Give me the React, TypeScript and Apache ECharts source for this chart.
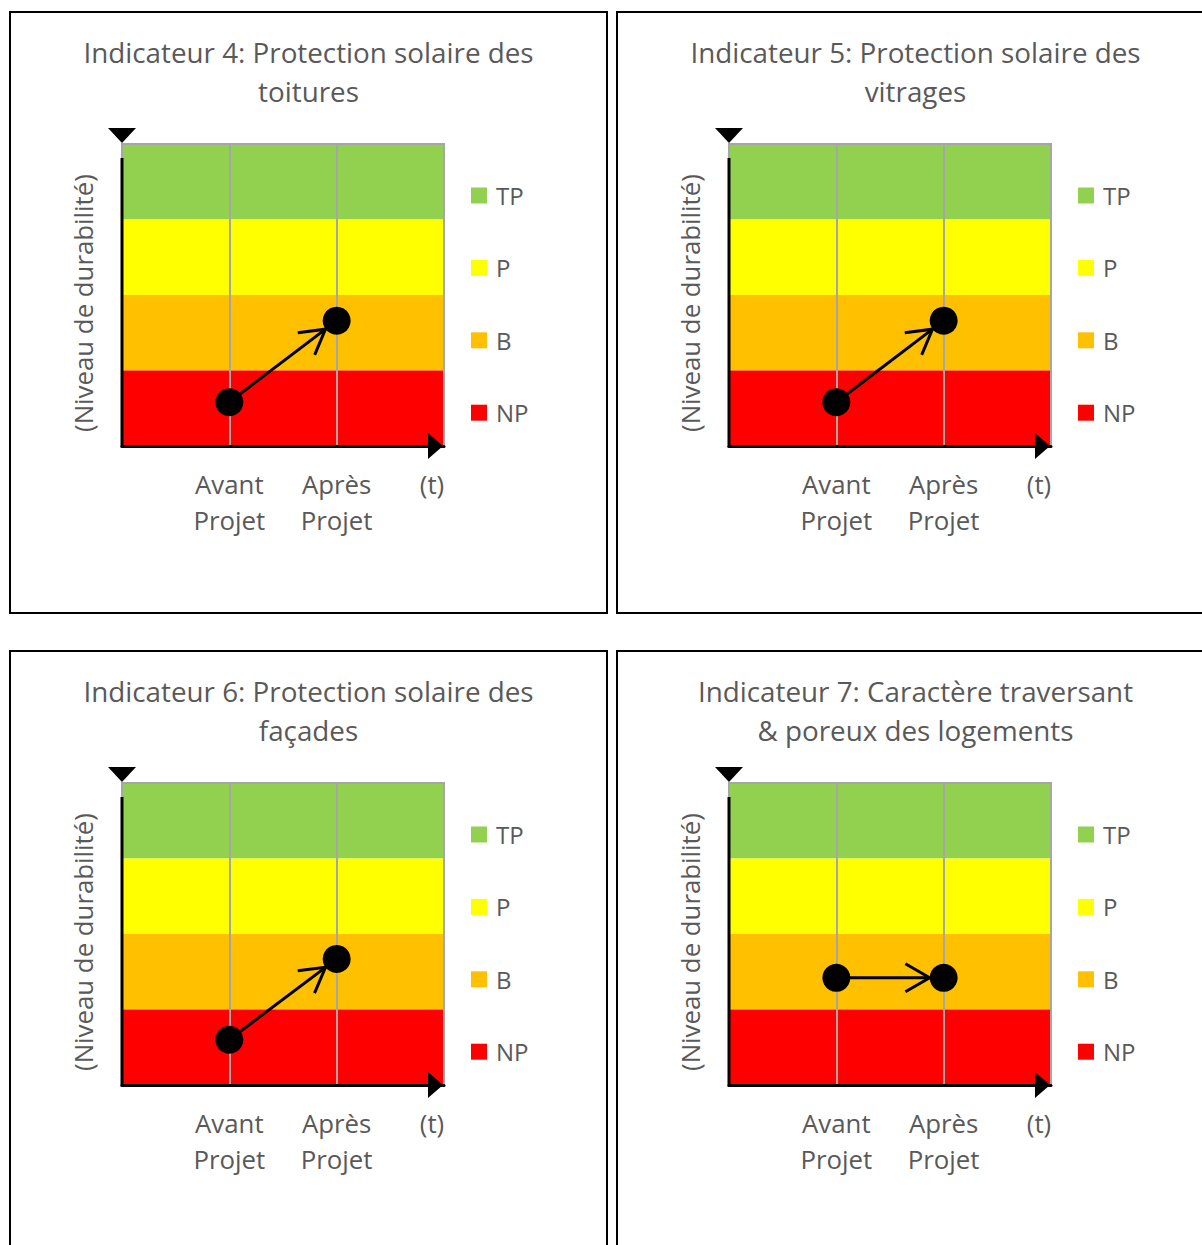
import React, { useEffect, useRef } from 'react';
import * as echarts from 'echarts';

const titles = [
  'Indicateur 4: Protection solaire des\ntoitures',
  'Indicateur 5: Protection solaire des\nvitrages',
  'Indicateur 6: Protection solaire des\nfaçades',
  'Indicateur 7: Caractère traversant\n& poreux des logements',
];
const bandNames = ['TP', 'P', 'B', 'NP'];
const bandColors = ['#92D050', '#FFFF00', '#FFC000', '#FF0000'];
const bandLower = [3, 2, 1, 0];
const bandUpper = [4, 3, 2, 1];
const xTickLabels = ['', 'Avant\nProjet', 'Après\nProjet', '(t)'];
const xPositions = [1, 2];
const avantValues = [0.58, 0.58, 0.6, 1.42];
const apresValues = [1.66, 1.66, 1.67, 1.42];
const yAxisName = '(Niveau de durabilité)';

const FONT = 'Open Sans';
const TEXT = '#595959';
const GRID_GRAY = '#A6A6A6';
const PANEL_DX = 607;
const PANEL_DY = 639;

export default function App() {
  const ref = useRef<HTMLDivElement>(null);

  useEffect(() => {
    const chart = echarts.init(ref.current!, null, { renderer: 'svg' });
    const grid: any[] = [];
    const xAxis: any[] = [];
    const yAxis: any[] = [];
    const series: any[] = [];
    const legend: any[] = [];
    const title: any[] = [];

    for (let i = 0; i < 4; i++) {
      const col = i % 2;
      const row = Math.floor(i / 2);
      const ox = col * PANEL_DX;
      const oy = row * PANEL_DY;

      title.push({
        text: titles[i],
        left: 308.5 + ox,
        top: 32.5 + oy,
        padding: 0,
        textAlign: 'center',
        textStyle: { fontFamily: FONT, fontSize: 27.8, fontWeight: 'normal', color: TEXT, lineHeight: 39 },
      });

      grid.push({
        left: 122 + ox, top: 144 + oy, width: 322, height: 302,
        show: true, borderColor: GRID_GRAY, borderWidth: 2, backgroundColor: 'transparent', z: 3,
      });

      xAxis.push({
        type: 'value', gridIndex: i, min: 0, max: 3, interval: 1, z: 3,
        axisLine: { show: true, onZero: false, lineStyle: { color: '#000', width: 3 } },
        axisTick: { show: false },
        splitLine: { show: true, lineStyle: { color: GRID_GRAY, width: 2 } },
        axisLabel: {
          margin: 20, fontFamily: FONT, fontSize: 25.8, color: TEXT, lineHeight: 36,
          formatter: (v: number) => (v === 3 ? '{t|' + xTickLabels[3] + '}' : xTickLabels[v] || ''),
          rich: { t: { fontFamily: FONT, fontSize: 25.8, color: TEXT, lineHeight: 36, padding: [0, 24, 0, 0] } },
        },
      });

      yAxis.push({
        type: 'value', gridIndex: i, min: 0, max: 4, interval: 1, z: 3,
        axisLine: { show: false }, axisTick: { show: false }, axisLabel: { show: false },
        splitLine: { show: false },
        name: yAxisName, nameLocation: 'middle', nameGap: 26, nameRotate: 90,
        nameTextStyle: { fontFamily: FONT, fontSize: 25.8, color: TEXT, padding: [0, 16, 0, 0] },
      });

      for (let b = 0; b < bandNames.length; b++) {
        series.push({
          type: 'line', name: bandNames[b], xAxisIndex: i, yAxisIndex: i, z: 1,
          data: [], symbol: 'none',
          itemStyle: { color: bandColors[b] }, lineStyle: { color: bandColors[b] },
          markArea: {
            silent: true,
            itemStyle: { color: bandColors[b], opacity: 1 },
            data: [[{ xAxis: 0, yAxis: bandLower[b] }, { xAxis: 3, yAxis: bandUpper[b] }]],
          },
        });
      }

      series.push({
        type: 'custom', xAxisIndex: i, yAxisIndex: i, z: 5, silent: true,
        encode: { x: [0, 2], y: [1, 3] },
        data: [[xPositions[0], avantValues[i], xPositions[1], apresValues[i]]],
        renderItem: (params: any, api: any) => {
          const p1 = api.coord([api.value(0), api.value(1)]);
          const p2 = api.coord([api.value(2), api.value(3)]);
          const dx = p2[0] - p1[0];
          const dy = p2[1] - p1[1];
          const len = Math.sqrt(dx * dx + dy * dy);
          const ux = dx / len;
          const uy = dy / len;
          const tip = [p2[0] - 14 * ux, p2[1] - 14 * uy];
          const ang = Math.atan2(-uy, -ux);
          const armLen = 28;
          const a = (30 * Math.PI) / 180;
          const arm1 = [tip[0] + armLen * Math.cos(ang + a), tip[1] + armLen * Math.sin(ang + a)];
          const arm2 = [tip[0] + armLen * Math.cos(ang - a), tip[1] + armLen * Math.sin(ang - a)];
          return {
            type: 'group',
            children: [
              { type: 'line', shape: { x1: p1[0], y1: p1[1], x2: tip[0], y2: tip[1] }, style: { stroke: '#000', lineWidth: 3 } },
              { type: 'polyline', shape: { points: [arm1, tip, arm2] }, style: { stroke: '#000', lineWidth: 3, fill: null } },
            ],
          };
        },
      });

      series.push({
        type: 'scatter', xAxisIndex: i, yAxisIndex: i, z: 6, symbolSize: 28, silent: true,
        itemStyle: { color: '#000', opacity: 1 },
        data: [[xPositions[0], avantValues[i]], [xPositions[1], apresValues[i]]],
      });

      legend.push({
        orient: 'vertical', left: 471 + ox, top: 183.5 + oy, padding: 0,
        itemWidth: 16, itemHeight: 16, itemGap: 48.4, icon: 'rect', selectedMode: false,
        data: bandNames,
        textStyle: { fontFamily: FONT, fontSize: 24, color: TEXT, lineHeight: 22, padding: [0, 0, 0, 4] },
      });
    }

    chart.setOption({ animation: false, title, grid, xAxis, yAxis, series, legend });

    const graphic: any[] = [];
    for (let i = 0; i < 4; i++) {
      const col = i % 2;
      const row = Math.floor(i / 2);
      const ox = col * PANEL_DX;
      const oy = row * PANEL_DY;
      graphic.push({
        type: 'rect', z: 20, silent: true,
        shape: { x: 10 + ox, y: 12 + oy, width: 597, height: 601 },
        style: { fill: 'none', stroke: '#000', lineWidth: 2 },
      });
      const bl = chart.convertToPixel({ gridIndex: i } as any, [0, 0]) as number[];
      const tl = chart.convertToPixel({ gridIndex: i } as any, [0, 4]) as number[];
      const br = chart.convertToPixel({ gridIndex: i } as any, [3, 0]) as number[];
      graphic.push({
        type: 'line', z: 20, silent: true,
        shape: { x1: bl[0], y1: bl[1] + 1.5, x2: tl[0], y2: tl[1] + 14 },
        style: { stroke: '#000', lineWidth: 3 },
      });
      graphic.push({
        type: 'polygon', z: 20, silent: true,
        shape: { points: [[tl[0] - 14, tl[1] - 16], [tl[0] + 14, tl[1] - 16], [tl[0], tl[1] - 1]] },
        style: { fill: '#000' },
      });
      graphic.push({
        type: 'polygon', z: 20, silent: true,
        shape: { points: [[br[0] - 16, br[1] - 13], [br[0] - 16, br[1] + 13], [br[0] - 1, br[1]]] },
        style: { fill: '#000' },
      });
    }
    chart.setOption({ graphic });

    return () => chart.dispose();
  }, []);

  return (
    <div
      ref={ref}
      style={{ position: 'absolute', left: 0, top: 0, width: 1202, height: 1245, background: '#fff' }}
    />
  );
}
